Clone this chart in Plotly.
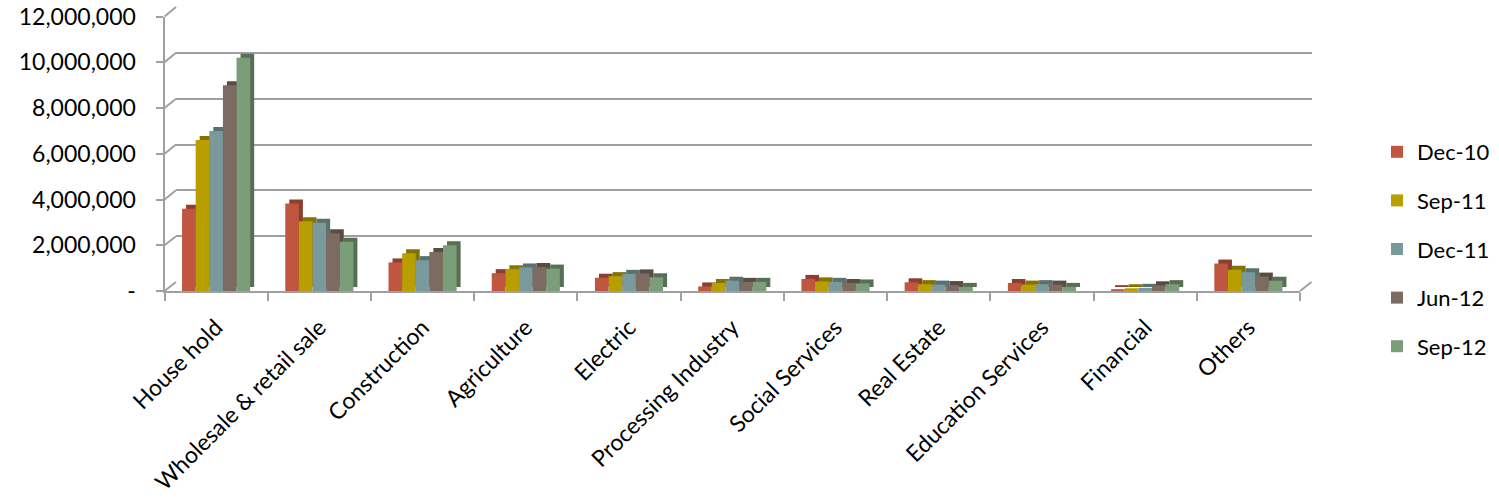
import plotly.graph_objects as go

# Outstanding loans by sector (values in units)
categories = ["House hold", "Wholesale & retail sale", "Construction", "Agriculture",
              "Electric", "Processing Industry", "Social Services", "Real Estate",
              "Education Services", "Financial", "Others"]

dec_10 = [3600000, 3820000, 1250000, 780000, 580000, 200000, 530000, 380000, 350000, 80000, 1200000]
sep_11 = [6600000, 3050000, 1650000, 950000, 650000, 350000, 420000, 300000, 280000, 120000, 930000]
dec_11 = [7000000, 2980000, 1350000, 1030000, 750000, 450000, 400000, 280000, 300000, 140000, 820000]
jun_12 = [9000000, 2520000, 1700000, 1050000, 770000, 400000, 350000, 260000, 280000, 250000, 630000]
sep_12 = [10200000, 2150000, 2000000, 980000, 600000, 400000, 330000, 180000, 180000, 300000, 450000]

series_names = ["Dec-10", "Sep-11", "Dec-11", "Jun-12", "Sep-12"]
series_values = [dec_10, sep_11, dec_11, jun_12, sep_12]

y_tick_vals = [0, 2000000, 4000000, 6000000, 8000000, 10000000, 12000000]
y_tick_text = ["-", "2,000,000", "4,000,000", "6,000,000", "8,000,000", "10,000,000", "12,000,000"]

face_colors = ["#BE5640", "#B89E00", "#7A999C", "#7B6B60", "#7B9D79"]
depth_colors = ["#8C3F2E", "#857200", "#58716F", "#594C43", "#566F55"]

W, H = 1499, 501
Y_MAX = 12000000
FONT = "Lato"
FONT_SIZE = 23
GRID = "#A0A0A0"


def fx(p):
    return p / W


def fy(p):
    return 1 - p / H


# pixel frames: front plane, bar depth plane, back wall
front = dict(left=164.5, right=1300, bottom=291, top=16.5)
depth = dict(left=168.5, right=1304, bottom=287, top=12.5)
back = dict(left=176, right=1311.5, bottom=282, top=7)

fig = go.Figure()

# back wall carrier (transparent) so its gridlines are laid out
fig.add_trace(go.Bar(x=categories, y=sep_12, marker_color="rgba(0,0,0,0)",
                     marker_line_width=0, showlegend=False, hoverinfo="skip",
                     xaxis="x", yaxis="y"))

# side / top faces of the columns (drawn behind, shifted up-right)
for name, vals, col in zip(series_names, series_values, depth_colors):
    fig.add_trace(go.Bar(x=categories, y=vals, name=name, marker_color=col,
                         marker_line_width=0, showlegend=False,
                         xaxis="x2", yaxis="y2", hoverinfo="skip"))

# front faces of the columns
for name, vals, col in zip(series_names, series_values, face_colors):
    fig.add_trace(go.Bar(x=categories, y=vals, name=name, marker_color=col,
                         marker_line_width=0, legendgroup=name,
                         xaxis="x3", yaxis="y3"))

hidden = dict(showticklabels=False, showline=False, zeroline=False, ticks="",
              automargin=False)

fig.update_layout(
    width=W, height=H,
    margin=dict(l=0, r=0, t=0, b=0),
    paper_bgcolor="white", plot_bgcolor="rgba(0,0,0,0)",
    barmode="group", bargap=0.34, bargroupgap=0,
    font=dict(family=FONT, size=FONT_SIZE, color="black"),
    # back wall with its gridlines
    xaxis=dict(domain=[fx(back["left"]), fx(back["right"])], anchor="y",
               type="category", categoryarray=categories, showgrid=False, **hidden),
    yaxis=dict(domain=[fy(back["bottom"]), fy(back["top"])], anchor="x",
               range=[0, Y_MAX], tickvals=y_tick_vals, showgrid=True,
               gridcolor=GRID, gridwidth=2, showticklabels=False,
               showline=False, zeroline=False, ticks="", automargin=False),
    # depth plane
    xaxis2=dict(domain=[fx(depth["left"]), fx(depth["right"])], anchor="y2",
                type="category", categoryarray=categories, showgrid=False, **hidden),
    yaxis2=dict(domain=[fy(depth["bottom"]), fy(depth["top"])], anchor="x2",
                range=[0, Y_MAX], showgrid=False, **hidden),
    # front plane with the visible axes
    xaxis3=dict(domain=[fx(front["left"]), fx(front["right"])], anchor="y3",
                type="category", categoryarray=categories, showgrid=False,
                showline=True, linecolor=GRID, linewidth=2,
                ticks="outside", tickson="boundaries", ticklen=8,
                tickcolor=GRID, tickwidth=2, tickangle=-45, ticklabelstandoff=12,
                tickfont=dict(family=FONT, size=FONT_SIZE, color="black"),
                zeroline=False, automargin=False),
    yaxis3=dict(domain=[fy(front["bottom"]), fy(front["top"])], anchor="x3",
                range=[0, Y_MAX], tickvals=y_tick_vals, ticktext=y_tick_text,
                showgrid=False, showline=True, linecolor=GRID, linewidth=2,
                ticks="outside", ticklen=7, tickcolor=GRID, tickwidth=2,
                ticklabelstandoff=15, zeroline=False, automargin=False,
                tickfont=dict(family=FONT, size=FONT_SIZE, color="black")),
    legend=dict(x=fx(1495), y=fy(131), xanchor="right", yanchor="top",
                font=dict(family=FONT, size=FONT_SIZE - 1, color="black"),
                tracegroupgap=17, bgcolor="rgba(0,0,0,0)"),
)

# side wall and floor edges joining the front plane to the back wall
shapes = []
for v in y_tick_vals:
    yf = front["bottom"] + (front["top"] - front["bottom"]) * v / Y_MAX
    yb = back["bottom"] + (back["top"] - back["bottom"]) * v / Y_MAX
    shapes.append(dict(type="line", xref="paper", yref="paper",
                       x0=fx(front["left"]), y0=fy(yf), x1=fx(back["left"]), y1=fy(yb),
                       line=dict(color=GRID, width=2), layer="below"))
shapes.append(dict(type="line", xref="paper", yref="paper",
                   x0=fx(front["right"]), y0=fy(front["bottom"]),
                   x1=fx(back["right"]), y1=fy(back["bottom"]),
                   line=dict(color=GRID, width=2), layer="below"))
fig.update_layout(shapes=shapes)

fig.write_html("out.html")
